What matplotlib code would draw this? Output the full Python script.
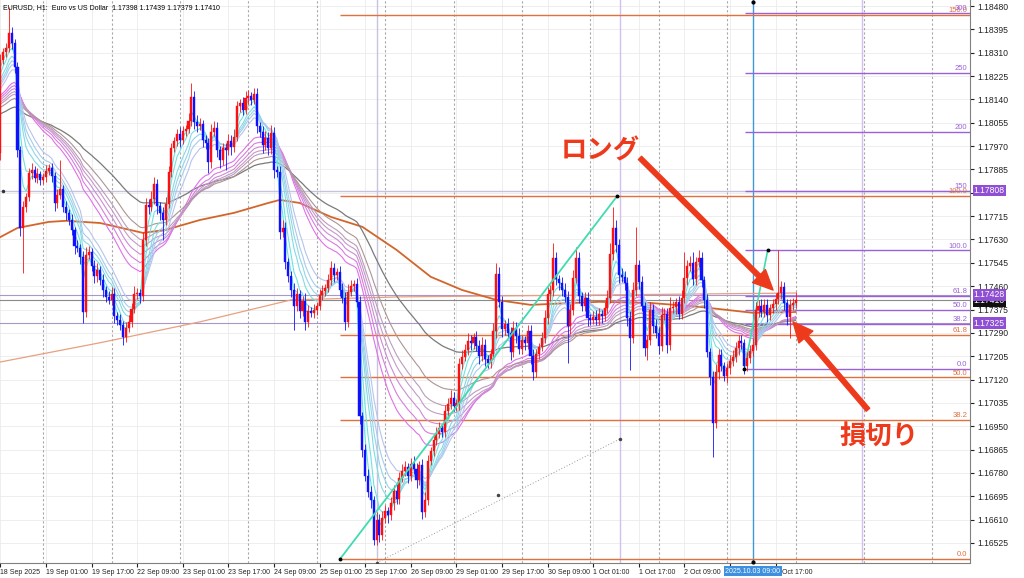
import numpy as np
import pandas as pd
import matplotlib
matplotlib.use('Agg')
import matplotlib.pyplot as plt
from matplotlib import font_manager
from matplotlib.transforms import blended_transform_factory

plt.rcParams['font.family'] = ['DejaVu Sans']
installed = {f.name for f in font_manager.fontManager.ttflist}
NARROW = 'Liberation Sans Narrow' if 'Liberation Sans Narrow' in installed else 'Liberation Sans'
NARROW_SIZE = 5.8 if NARROW == 'Liberation Sans Narrow' else 5.0
LABEL = 'Liberation Sans'

PIP = 0.0001
BASE = 1.16

# EURUSD H1 candles from 18 Sep 2025 09:00, closes in pips above 1.16000
first_open_pips = 194.5
close_pips = [
    228.4, 231.3, 232.7, 238.2, 234.5, 225.8, 195.6, 167.2, 174.9, 178.5, 187.2, 188.3, 185.4, 186.9, 184.7, 185.8, 188.0, 189.0, 186.1, 176.3,
    179.2, 181.4, 174.9, 172.7, 170.1, 166.5, 160.7, 159.9, 156.7, 136.6, 157.4, 158.5, 153.4, 149.7, 151.9, 148.3, 144.6, 142.1, 141.0, 143.2,
    135.2, 133.7, 131.9, 127.5, 130.8, 133.0, 137.7, 143.2, 143.5, 142.5, 162.8, 175.6, 174.9, 177.8, 183.2, 175.2, 172.7, 170.1, 175.9, 187.6,
    196.3, 198.9, 201.4, 199.2, 202.5, 203.2, 206.2, 214.9, 205.8, 204.3, 205.1, 199.2, 198.1, 191.2, 202.2, 203.6, 195.6, 192.0, 196.3, 195.6,
    198.9, 196.7, 200.3, 211.6, 212.7, 210.2, 214.5, 215.3, 213.8, 216.0, 204.3, 202.2, 197.4, 200.0, 196.3, 201.8, 188.3, 187.6, 165.8, 167.2,
    154.8, 149.7, 144.6, 138.8, 143.2, 137.0, 140.6, 133.0, 137.0, 136.3, 137.4, 138.8, 142.8, 144.3, 145.4, 148.3, 152.6, 150.1, 151.2, 144.6,
    141.7, 133.0, 143.9, 146.1, 146.8, 140.3, 98.8, 86.4, 76.9, 71.1, 68.2, 53.6, 60.9, 55.5, 61.6, 64.2, 62.7, 67.1, 71.5, 68.6,
    76.2, 78.8, 80.2, 76.9, 81.3, 79.5, 75.5, 80.9, 63.8, 68.2, 82.4, 86.0, 90.0, 92.2, 94.4, 93.0, 100.6, 103.1, 105.3, 102.4,
    103.5, 117.7, 120.3, 122.8, 126.1, 125.3, 127.5, 124.3, 120.6, 124.6, 119.5, 118.1, 121.3, 129.7, 150.5, 140.3, 130.4, 132.3, 129.0, 122.1,
    130.8, 127.9, 123.2, 126.4, 125.3, 129.7, 120.6, 114.8, 121.3, 123.9, 127.2, 134.4, 143.2, 144.6, 156.3, 148.6, 147.2, 144.6, 142.1, 131.5,
    137.4, 149.0, 156.3, 142.5, 138.8, 141.7, 134.4, 133.7, 134.8, 133.7, 135.9, 135.2, 138.1, 141.7, 157.7, 167.2, 161.0, 150.1, 149.4, 147.2,
    134.4, 127.2, 144.6, 153.7, 147.6, 138.8, 123.5, 126.4, 137.4, 131.5, 129.0, 124.3, 135.5, 135.9, 124.6, 138.1, 138.5, 140.3, 135.9, 141.7,
    149.0, 153.4, 154.5, 148.6, 154.8, 156.3, 148.3, 141.0, 122.1, 113.0, 96.2, 114.8, 121.0, 117.0, 113.3, 116.2, 118.8, 120.3, 123.5, 126.1,
    125.3, 117.0, 119.9, 122.4, 124.6, 137.4, 138.8, 136.6, 139.2, 135.5, 138.1, 139.5, 141.4, 143.5, 145.7, 139.9, 134.8, 139.2, 139.8, 141.0,
]
wick_up = [
    2, 1.5, 2, 9.5, 2, 1.5, 2, 1.5, 2, 1.5, 2, 2.6, 1.5, 2, 1, 1.5, 2, 1.5, 2, 1.5,
    2, 10.6, 1.5, 2, 1.5, 2, 1, 2, 1.5, 2, 3, 2, 1.5, 2, 2.5, 1.5, 2, 1.5, 2, 2.5,
    2, 1.5, 2, 1.5, 2, 2.5, 2, 3, 2, 1.5, 3, 2.5, 2, 3, 2.5, 2, 1.5, 2, 2.5, 2,
    2, 1.5, 2, 2.5, 2, 1.5, 3, 5.1, 2, 2.5, 2, 1.5, 2, 2, 3, 2.5, 2, 1.5, 2, 2,
    2.5, 2, 3, 2, 1.5, 2, 2.5, 2, 1.5, 2.2, 2, 1.5, 2, 2.5, 2, 3, 2, 1.5, 2, 3,
    2, 1.5, 2, 2.5, 2, 1.5, 2, 3, 2, 1.5, 2, 1.5, 2, 2, 1.5, 2, 2.5, 2, 1.5, 2,
    2.5, 2, 3, 2, 1.5, 2, 2, 1.5, 2, 2.5, 2, 1.5, 3, 2, 2.5, 2, 1.5, 2, 2, 3,
    2, 2.5, 2, 1.5, 2, 3, 2, 1.5, 2, 3, 2, 1.5, 2, 2.5, 2, 1.5, 2, 2, 3, 2,
    1.5, 2, 2.5, 2, 3, 2, 1.5, 2, 2, 3, 2, 1.5, 2, 3, 4, 2.5, 2, 1.5, 2, 2,
    2.5, 2, 3, 2, 1.5, 2, 2, 2.5, 2, 1.5, 2, 3, 2.5, 2, 5.4, 2, 1.5, 2, 2.5, 2,
    2, 3, 4, 2, 1.5, 2, 2, 1.5, 2, 2.5, 2, 1.5, 2, 3, 4, 7.7, 3, 2, 2.5, 2,
    2, 2.5, 3, 13.9, 2, 2, 1.5, 2, 3, 2, 2.5, 2, 3, 2, 2, 4, 2, 1.5, 2, 3,
    9.5, 2, 2.5, 4, 2, 2.9, 2, 1.5, 2, 1.5, 2, 3, 2, 2, 1.5, 2, 2, 2.5, 2, 2,
    2, 1.5, 2, 2, 2.5, 3, 2, 2.5, 2, 2, 1.5, 2, 2, 15.7, 2.2, 2, 1.5, 2, 2, 2.9,
]
wick_dn = [
    2.5, 1.5, 2, 1.5, 2, 2, 2.5, 3, 16.4, 2, 1.5, 2, 1.5, 2, 2, 1.5, 2, 1.5, 2, 3,
    2, 1.5, 2, 2.5, 2, 2, 3, 1.5, 2.5, 4, 2, 1.5, 2, 2.5, 2, 2, 2.5, 2, 1.5, 2,
    2.5, 2, 2, 3, 2, 1.5, 2, 1.5, 2, 2.5, 2, 2, 2.5, 1.5, 2, 3, 2.5, 7.3, 2, 1.5,
    2, 1.5, 2, 2.5, 1.5, 2, 1.5, 2, 2.5, 2, 1.5, 2.5, 2, 4, 2, 1.5, 2.5, 3, 2, 7.3,
    2, 3, 2, 1.5, 2, 2, 1.5, 2, 2, 1.5, 2.5, 2, 3, 2, 2.5, 2, 3, 2, 2.5, 2,
    2.5, 2, 2.5, 8.7, 2, 2.5, 2, 3, 2, 1.5, 2, 2, 1.5, 2, 2, 1.5, 2, 2.5, 2, 2,
    2, 3, 2, 1.5, 2, 2, 3, 2.5, 2, 2, 3, 2, 1.8, 2.5, 2, 2, 3, 2, 2.5, 2,
    2, 1.5, 2, 2.5, 2, 2, 3, 2, 2.5, 2, 2, 1.5, 2, 2, 1.5, 2, 2, 2.5, 2, 2,
    2, 2.5, 2, 1.5, 2, 2.5, 2, 2, 3, 2, 2.5, 2, 2, 2, 2.5, 2, 3, 2, 2, 3,
    2, 2.5, 2, 2, 2.5, 2, 3, 2.9, 2, 2, 1.5, 2, 2, 2.5, 2, 2, 2.5, 2, 2, 13.4,
    3, 2, 2, 2.5, 2, 2, 3, 2, 1.5, 2, 2, 2.5, 2, 2, 2, 2, 2.5, 3, 2, 2.5,
    3, 11.7, 2, 2, 2.5, 2, 3, 4.3, 2, 2.5, 2, 3, 2, 2, 3, 2, 2, 2.5, 2, 2,
    2, 2.5, 2, 2, 2, 2, 2.5, 3, 2, 3, 12.4, 2, 2.5, 2, 2, 2.5, 2, 2, 2, 2.5,
    2, 3, 2, 2, 2, 2, 2.5, 2, 2, 2.5, 2, 2, 2, 2, 2, 2.5, 3, 7.6, 2, 1.9,
]

# slow moving averages (bar index, price)
ma200_bars = [0, 6, 17, 23, 35, 50, 58, 70, 82, 94, 98, 105, 116, 127, 139, 151, 162, 174, 186, 210, 228, 245, 264, 279]
ma200 = [1.17639, 1.17672, 1.17694, 1.17698, 1.17690, 1.17654, 1.17665, 1.17701, 1.17727, 1.17763, 1.17774, 1.17763,
         1.17712, 1.17676, 1.17592, 1.17494, 1.17446, 1.17410, 1.17392, 1.17403, 1.17399, 1.17385, 1.17363, 1.17366]
ma_slow_bars = [0, 35, 70, 102, 140, 210, 279]
ma_slow = [1.17184, 1.17254, 1.17330, 1.17410, 1.17421, 1.17428, 1.17435]

# GMMA periods and their values just before the first bar (pips above 1.16)
short_periods = [3, 5, 8, 10, 12, 15]
short_seed = [222.9, 221.1, 219.3, 218.2, 217.4, 216.3]
long_periods = [30, 35, 40, 45, 50, 60]
long_seed = [214.5, 213.8, 213.1, 212.3, 211.6, 210.5]
slow_period = 90
slow_seed = 208.3

fib_orange_lo, fib_orange_hi = 1.16467, 1.17788
fib_orange_levels = [0.0, 38.2, 50.0, 61.8, 100.0, 150.0]
fib_orange_text = ['0.0', '38.2', '50.0', '61.8', '100.0', '150.0']
fib_purple_lo, fib_purple_hi = 1.17158, 1.17590
fib_purple_levels = [0.0, 38.2, 50.0, 61.8, 100.0, 150.0, 200.0, 250.0, 300.0]
fib_purple_text = ['0.0', '38.2', '50.0', '61.8', '100.0', '150', '200', '250', '300']

marked_prices = [1.17808, 1.17428, 1.17325]
bid = 1.17410

date_labels = ['18 Sep 2025', '19 Sep 01:00', '19 Sep 17:00', '22 Sep 09:00', '23 Sep 01:00', '23 Sep 17:00',
               '24 Sep 09:00', '25 Sep 01:00', '25 Sep 17:00', '26 Sep 09:00', '29 Sep 01:00', '29 Sep 17:00',
               '30 Sep 09:00', '1 Oct 01:00', '1 Oct 17:00', '2 Oct 09:00', '3 Oct 01:00', '3 Oct 17:00']

close = BASE + np.array(close_pips) * PIP
opens = np.concatenate([[BASE + first_open_pips * PIP], close[:-1]])
high = np.maximum(opens, close) + np.array(wick_up) * PIP
low = np.minimum(opens, close) - np.array(wick_dn) * PIP
x = np.arange(len(close))


def ema(period, seed):
    s = pd.Series(np.concatenate([[BASE + seed * PIP], close]))
    return s.ewm(span=period, adjust=False).mean().values[1:]


fig = plt.figure(figsize=(10.24, 5.78), dpi=100)
ax = fig.add_axes([0, 15 / 578, 970 / 1024, 563 / 578])
ax.set_xlim(-0.14, 340.2)
ax.set_ylim(1.16452, 1.18502)

price_ticks = np.round(1.16525 + 0.00085 * np.arange(24), 5)
tick_bars = np.arange(len(date_labels)) * 16

# grid and day separators
for p in price_ticks:
    ax.axhline(p, color='#ebebeb', lw=0.6, zorder=0)
for b in tick_bars:
    ax.axvline(b, color='#ebebeb', lw=0.6, zorder=0)
for b in range(15, 340, 24):
    ax.axvline(b, color='#a8a8a8', lw=0.8, ls=(0, (2, 2)), zorder=0.5)

# vertical marker lines
ax.axvline(132.1, color='#c8c4e0', lw=1, zorder=1)
ax.axvline(217.4, color='#d4c0ee', lw=1, zorder=1)
ax.axvline(302.3, color='#d4c0ee', lw=1, zorder=1)
ax.axvline(264, color='#3c9ad8', lw=1, zorder=1)
ax.plot([264, 264], [1.18495, 1.16455], 'o', color='black', ms=2, zorder=6, clip_on=False)

# full-width price lines
ax.axhline(marked_prices[0], color='#c4c4e0', lw=1, zorder=1)
ax.plot([1], [marked_prices[0]], 'o', color='#333', ms=1.5, zorder=6)
ax.axhline(marked_prices[1], color='#a896cc', lw=0.8, zorder=1)
ax.axhline(bid, color='#8a8a8a', lw=0.8, zorder=1)
ax.axhline(marked_prices[2], color='#a896cc', lw=0.8, zorder=1)

# fibonacci levels
tr = blended_transform_factory(ax.transAxes, ax.transData)
for lev, txt in zip(fib_orange_levels, fib_orange_text):
    p = fib_orange_lo + (fib_orange_hi - fib_orange_lo) * lev / 100
    ax.hlines(p, 119.2, 340.2, color='#e0703c', lw=1, zorder=1.5)
    ax.text(0.997, p + 0.00003, txt, transform=tr, ha='right', va='bottom', fontsize=5.5,
            family=LABEL, color='#e0703c', zorder=6)
for lev, txt in zip(fib_purple_levels, fib_purple_text):
    p = fib_purple_lo + (fib_purple_hi - fib_purple_lo) * lev / 100
    ax.hlines(p, 261.3, 340.2, color='#9a62d8', lw=1, zorder=1.5)
    ax.text(0.997, p + 0.00003, txt, transform=tr, ha='right', va='bottom', fontsize=5.5,
            family=LABEL, color='#9a62d8', zorder=6)

# drawn trend lines
ax.plot([119.2, 216.4], [fib_orange_lo, fib_orange_hi], color='#40dcb0', lw=1.3, zorder=5)
ax.plot([119.2, 216.4], [fib_orange_lo, fib_orange_hi], 'o', color='black', ms=1.8, zorder=6)
ax.plot([261, 269.2], [fib_purple_lo, fib_purple_hi], color='#40dcb0', lw=1.2, zorder=2.6)
ax.plot([261, 269.2], [fib_purple_lo, fib_purple_hi], 'o', color='black', ms=1.8, zorder=6)
ax.plot([132.1, 217.4], [1.16453, 1.16904], color='#999999', lw=0.7, ls=(0, (1, 2)), zorder=1.5)
ax.plot([132.1, 174.6, 217.4], [1.16453, 1.16700, 1.16904], 'o', color='#444', ms=1.5, zorder=6)

# moving averages
ax.plot(ma_slow_bars, ma_slow, color='#e8a080', lw=0.9, zorder=2)
ax.plot(ma200_bars, ma200, color='#d2662a', lw=1.3, zorder=2)
ax.plot(x, ema(slow_period, slow_seed), color='#7a7a7a', lw=0.9, zorder=2)
long_colors = ['#e070e8', '#d67ede', '#cc8cd4', '#c49ac8', '#bc9cbc', '#ae9494']
for per, seed, c in zip(long_periods, long_seed, long_colors):
    ax.plot(x, ema(per, seed), color=c, lw=0.8, zorder=2.2)
short_colors = ['#5ee8dc', '#6ee2e0', '#80dbe4', '#94d4e8', '#a6ccec', '#b6c4ec']
for per, seed, c in zip(short_periods, short_seed, short_colors):
    ax.plot(x, ema(per, seed), color=c, lw=0.8, zorder=2.4)

# candles
up = close >= opens
cols = np.where(up, '#ff1010', '#1010ff')
ax.vlines(x, low, high, colors=cols, lw=0.6, zorder=3)
ax.bar(x, np.maximum(np.abs(close - opens), 0.00002), bottom=np.minimum(opens, close), width=0.72,
       color=cols, edgecolor=cols, linewidth=0.3, zorder=3)

# axes look
for s in ['top', 'left']:
    ax.spines[s].set_visible(False)
ax.spines['right'].set_color('#808080')
ax.spines['bottom'].set_color('#808080')
ax.yaxis.tick_right()
ax.set_yticks(price_ticks)
# 1.17800 sits under the highlighted 1.17808 label, as on the terminal
ax.set_yticklabels(['' if abs(p - 1.178) < 1e-6 else f'{p:.5f}' for p in price_ticks], family=LABEL)
ax.tick_params(axis='y', length=3, pad=2, labelsize=6.2, colors='#222222')
ax.set_xticks(tick_bars)
ax.set_xticklabels(date_labels, ha='left', family=NARROW, fontsize=NARROW_SIZE)
ax.tick_params(axis='x', length=3, pad=1.5, colors='#222222')
# hide the tick label that the cursor time box covers
ax.get_xticklabels()[16].set_visible(False)

# highlighted price labels
for p in marked_prices:
    ax.text(1.004, p, f'{p:.5f}', transform=tr, ha='left', va='center', fontsize=6.2, family=LABEL, color='white',
            bbox=dict(boxstyle='square,pad=0.15', fc='#8e4fd4', ec='none'), clip_on=False, zorder=10)
ax.text(1.004, bid - 0.00004, f'{bid:.5f}', transform=tr, ha='left', va='center', fontsize=6.2, family=LABEL,
        color='white', bbox=dict(boxstyle='square,pad=0.15', fc='#101010', ec='none'), clip_on=False, zorder=9)
trx = blended_transform_factory(ax.transData, ax.transAxes)
ax.text(264, -0.008, '2025.10.03 09:00', transform=trx, ha='center', va='top', fontsize=NARROW_SIZE, family=NARROW,
        color='white', bbox=dict(boxstyle='square,pad=0.2', fc='#3d8fe0', ec='none'), clip_on=False, zorder=10)

ax.text(0.003, 0.993, 'EURUSD, H1:  Euro vs US Dollar  1.17398 1.17439 1.17379 1.17410',
        transform=ax.transAxes, ha='left', va='top', fontsize=NARROW_SIZE, family=NARROW, color='black', zorder=10)

# annotations
red = '#ee3a1c'
jp = ['Noto Sans CJK JP', 'DejaVu Sans']
ax.text(210.4, 1.17952, 'ロング', family=jp, fontsize=19, fontweight='bold', color=red, ha='center', va='center', zorder=11)
ax.text(308.3, 1.16911, '損切り', family=jp, fontsize=19, fontweight='bold', color=red, ha='center', va='center', zorder=11)
arrow = dict(arrowstyle='simple,head_width=1.2,head_length=1.3,tail_width=0.3', color=red,
             mutation_scale=11, shrinkA=0, shrinkB=0)
ax.annotate('', xy=(271.1, 1.17446), xytext=(224.4, 1.17927), arrowprops=arrow, zorder=11)
ax.annotate('', xy=(278.1, 1.17330), xytext=(304.4, 1.17010), arrowprops=arrow, zorder=11)

fig.savefig('out.png', dpi=100)
